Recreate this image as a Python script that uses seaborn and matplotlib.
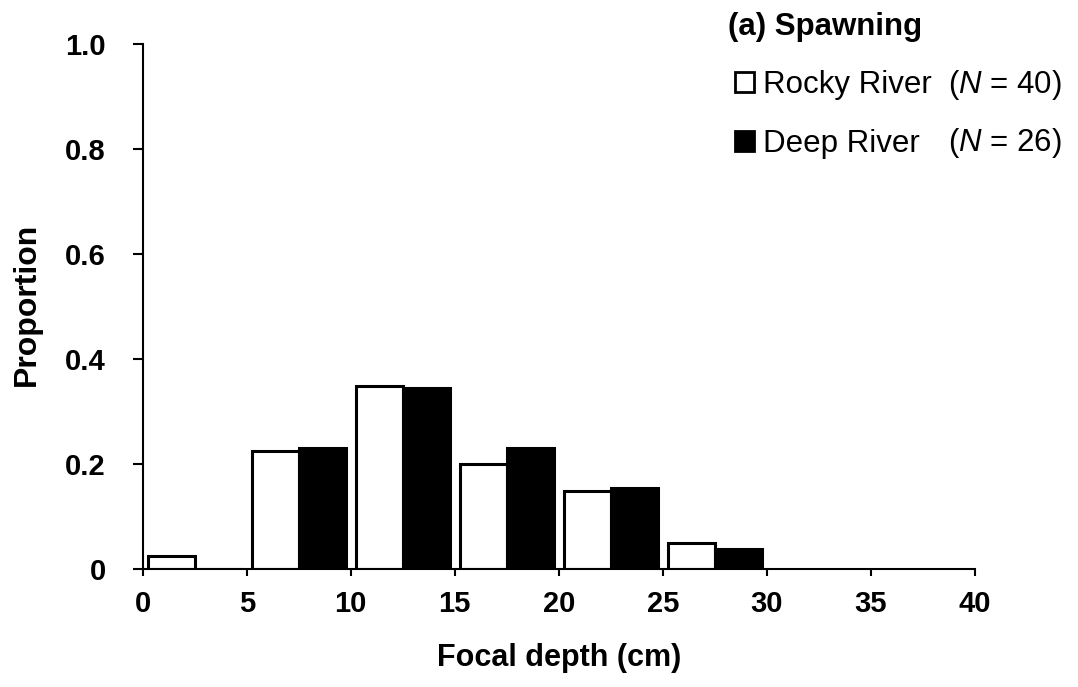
import matplotlib
matplotlib.use("Agg")
import matplotlib.pyplot as plt
import pandas as pd
import seaborn as sns
from matplotlib.patches import Patch
from matplotlib.ticker import FixedLocator, FixedFormatter

# Proportion of observations per 5-cm focal-depth bin
bin_starts = [0, 5, 10, 15, 20, 25]
rocky = [0.025, 0.225, 0.350, 0.200, 0.150, 0.050]
deep = [0.0, 0.231, 0.346, 0.231, 0.154, 0.038]
rivers = ["Rocky River", "Deep River"]
sample_sizes = [40, 26]
x_ticks = [0, 5, 10, 15, 20, 25, 30, 35, 40]
y_ticks = [0, 0.2, 0.4, 0.6, 0.8, 1.0]
y_tick_labels = ["0", "0.2", "0.4", "0.6", "0.8", "1.0"]
panel_title = "(a) Spawning"

sns.set_style("ticks")
plt.rcParams["font.family"] = ["Liberation Sans", "DejaVu Sans"]
plt.rcParams["mathtext.fontset"] = "custom"
plt.rcParams["mathtext.it"] = "Liberation Sans:italic"
plt.rcParams["mathtext.rm"] = "Liberation Sans"
plt.rcParams["text.color"] = "black"
plt.rcParams["axes.labelcolor"] = "black"
plt.rcParams["xtick.color"] = "black"
plt.rcParams["ytick.color"] = "black"

df = pd.DataFrame({
    "depth": [b + 2.5 for b in bin_starts] * 2,
    "proportion": rocky + deep,
    "river": [rivers[0]] * len(rocky) + [rivers[1]] * len(deep),
})

W, H = 1078, 687
fig = plt.figure(figsize=(W / 100, H / 100), dpi=100)
ax = fig.add_axes([142.7 / W, 1 - 569.3 / H, 832 / W, 525 / H])

colors = {rivers[0]: "white", rivers[1]: "black"}
sns.barplot(data=df, x="depth", y="proportion", hue="river", hue_order=rivers,
            palette=colors, native_scale=True, width=0.9, errorbar=None,
            edgecolor="black", linewidth=2.2, ax=ax, legend=False)

ax.set_xlim(0, 40)
ax.set_ylim(0, 1.0)
ax.xaxis.set_major_locator(FixedLocator(x_ticks))
ax.xaxis.set_major_formatter(FixedFormatter([str(t) for t in x_ticks]))
ax.yaxis.set_major_locator(FixedLocator(y_ticks))
ax.yaxis.set_major_formatter(FixedFormatter(y_tick_labels))

for side in ("top", "right"):
    ax.spines[side].set_visible(False)
for side in ("left", "bottom"):
    ax.spines[side].set_linewidth(1.5)
    ax.spines[side].set_color("black")

ax.tick_params(axis="y", direction="out", length=7, width=1.5, pad=19.5,
               labelsize=21, colors="black")
ax.tick_params(axis="x", direction="out", length=5, width=1.5, pad=10,
               labelsize=21, colors="black")
for lab in ax.get_xticklabels() + ax.get_yticklabels():
    lab.set_fontweight("bold")

ax.set_xlabel("Focal depth (cm)", fontsize=22, fontweight="bold", color="black")
ax.set_ylabel("Proportion", fontsize=23, fontweight="bold", color="black")
ax.xaxis.set_label_coords(0.5, -0.140)
ax.yaxis.set_label_coords(-0.121, 0.505)

handles = [Patch(facecolor=colors[r], edgecolor="black", linewidth=2.0) for r in rivers]
ax.legend(handles, rivers, loc="upper left",
          bbox_to_anchor=(735 / W, 1 - 70 / H), bbox_transform=fig.transFigure,
          frameon=False, fontsize=22.5, handlelength=0.6, handleheight=0.6,
          handletextpad=0.3, labelspacing=0.94, borderpad=0, borderaxespad=0,
          labelcolor="black")

fig.text(728 / W, 1 - 35 / H, panel_title, fontsize=22.5, fontweight="bold",
         va="baseline", ha="left", color="black")
for n, base in zip(sample_sizes, [93, 151]):
    fig.text(948 / W, 1 - base / H, rf"($\mathit{{N}}$ = {n})", fontsize=22.5,
             va="baseline", ha="left", color="black")

fig.savefig("out.png", dpi=100, facecolor="white")
